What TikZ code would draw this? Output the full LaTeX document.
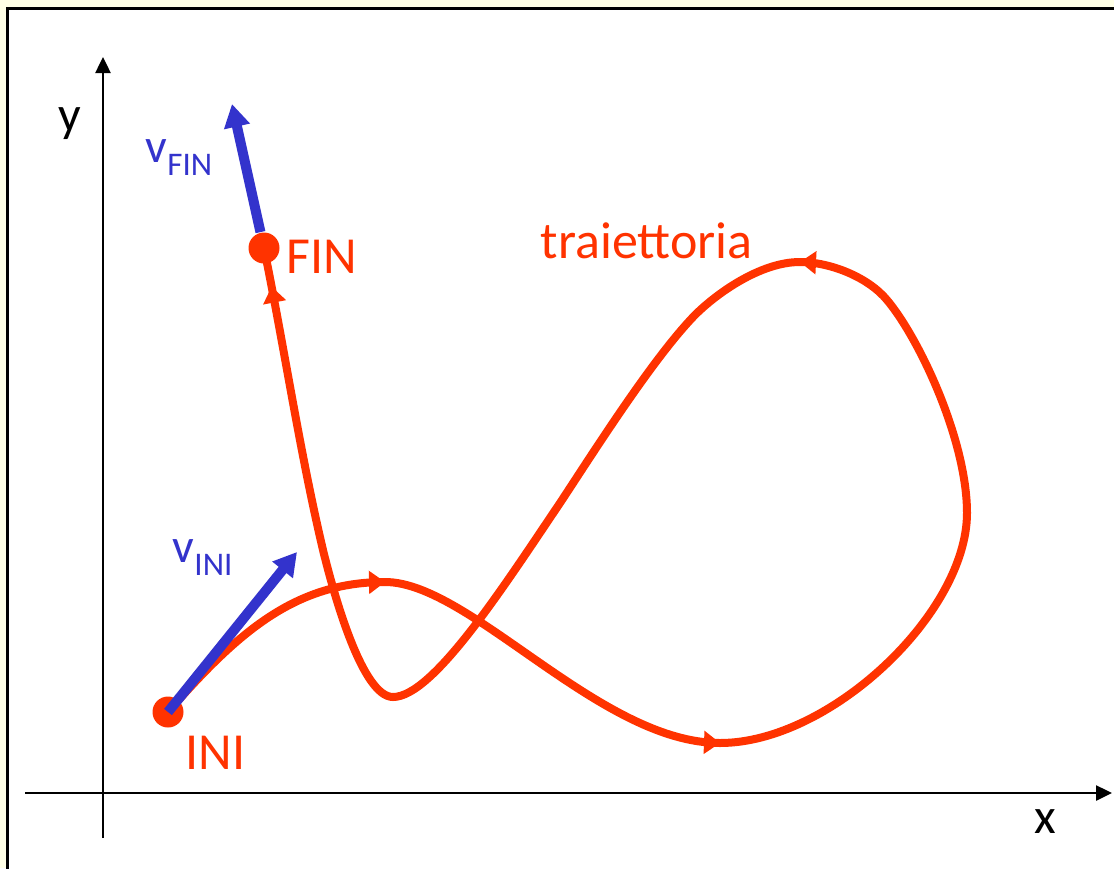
\documentclass[tikz,border=0pt]{standalone}
\usepackage{fontspec}
\setmainfont{Carlito}
\usetikzlibrary{arrows.meta}
\definecolor{trred}{HTML}{FF3300}
\definecolor{vblue}{HTML}{3333CC}
\definecolor{bgyel}{HTML}{FFFFE6}
\tikzset{
  axisline/.style={line width=0.625pt, -{Triangle[length=4pt,width=3.75pt]}},
  vel/.style={vblue, line width=2.5pt, -{Triangle[length=5.75pt,width=6.25pt]}},
  dot/.style={circle, fill=trred, minimum size=7.75pt, inner sep=0pt},
  lbl/.style={anchor=base west, inner sep=0pt, font=\fontsize{13}{13}\selectfont},
  vlbl/.style={anchor=base west, inner sep=0pt, text=vblue},
  traj/.style={trred, line width=2pt},
  midtip/.style={trred, line width=0.5pt, -{Triangle[length=4pt,width=5.75pt]}}
}
\newcommand{\vsz}{\fontsize{12}{12}\selectfont}
\newcommand{\subsz}{\fontsize{8.25}{8.25}\selectfont}
\begin{document}
\begin{tikzpicture}[x=0.25pt,y=-0.25pt]
\useasboundingbox (0,0) rectangle (1114,868);
% background and frame
\fill[bgyel] (0,0) rectangle (1114,868);
\fill[white] (7.5,8.5) rectangle (1130,880);
\draw[line width=0.75pt] (1130,8.5) -- (7.5,8.5) -- (7.5,880);
% axes
\coordinate (ybot) at (103,838);
\coordinate (ytop) at (103,57);
\coordinate (xleft) at (25,793);
\coordinate (xright) at (1112,793);
\draw[axisline] (ybot) -- (ytop);
\draw[axisline] (xleft) -- (xright);
\node[lbl, font=\fontsize{12.5}{12.5}\selectfont] (ylab) at (58,131) {y};
\node[lbl, font=\fontsize{12.5}{12.5}\selectfont] (xlab) at (1034,833) {x};
% points
\node[dot] (ini) at (168,712) {};
\node[dot] (fin) at (264,248) {};
% trajectory
\draw[traj] (ini.center)
  .. controls (238,632) and (295,582) .. (385,582) coordinate[pos=0.96] (t1) coordinate (h1)
  .. controls (470,582) and (600,743) .. (720,743) coordinate[pos=0.97] (t2) coordinate (h2)
  .. controls (830,743) and (967,613) .. (967,513)
  .. controls (967,440) and (919,338) .. (887,300)
  .. controls (868,277) and (830,262) .. (800,262) coordinate[pos=0.9] (t3) coordinate (h3)
  .. controls (760,262) and (716,294) .. (695,315)
  .. controls (653,358) and (593,453) .. (560,503)
  .. controls (504,586) and (433,697) .. (393,697)
  .. controls (363,697) and (335,599) .. (323,550)
  .. controls (300,453) and (284,346) .. (fin.center) coordinate[pos=0.84] (t4) coordinate[pos=0.87] (h4);
\draw[midtip] (t1) -- (h1);
\draw[midtip] (t2) -- (h2);
\draw[midtip] (t3) -- (h3);
\draw[midtip] (t4) -- (h4);
% velocities
\coordinate (vinitip) at (297,552);
\coordinate (vfintip) at (232,104);
\draw[vel] (ini.center) -- (vinitip);
\draw[vel] (fin) -- (vfintip);
% labels
\node[lbl, text=trred] (tlab) at (540,258) {traiettoria};
\node[lbl, text=trred] (finlab) at (286,273) {FIN};
\node[lbl, text=trred] (inilab) at (185,769) {INI};
\node[vlbl] (vinilab) at (172,562) {\vsz v\subsz\raisebox{-3.25pt}{INI}};
\node[vlbl] (vfinlab) at (145,162) {\vsz v\subsz\raisebox{-3.25pt}{FIN}};
\end{tikzpicture}
\end{document}
